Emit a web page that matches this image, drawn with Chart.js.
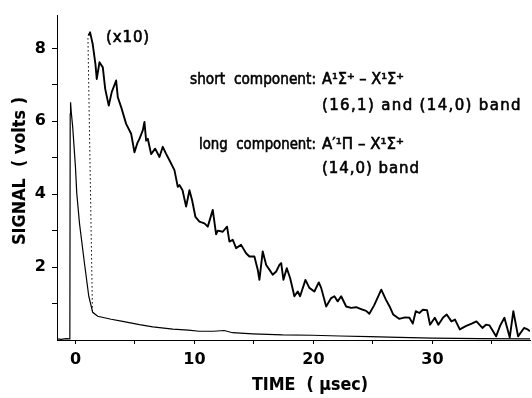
<!DOCTYPE html>
<html>
<head>
<meta charset="utf-8">
<script src="https://cdn.jsdelivr.net/npm/chart.js@4.4.1/dist/chart.umd.min.js"></script>
<style>
  html, body { margin: 0; padding: 0; background: #fff; }
  canvas { display: block; }
</style>
</head>
<body>
<canvas id="decayChart" width="532" height="398"></canvas>
<script>
// fast trace (full scale), time in microseconds, signal in volts
const mainTime = [-1.55, -1.2, -0.8, -0.47, -0.44, -0.41, -0.35, -0.23, 0, 0.11, 0.34, 0.76, 1.12, 1.45,
    1.87, 3.0, 3.97, 5.38, 6.5, 8.18, 9.5, 10.4, 11.0, 11.6, 12.5, 13.2, 14.9, 17.4, 19.9, 22.2,
    24.7, 27.2, 30.0, 34.0, 38.2];
const mainSignal = [0.03, 0.02, 0.04, 0.03, 6.2, 6.52, 6.25, 5.84, 4.75, 4.03, 3.2, 2.1, 1.2, 0.76,
    0.65, 0.57, 0.51, 0.42, 0.36, 0.30, 0.27, 0.24, 0.24, 0.24, 0.26, 0.2, 0.17, 0.14, 0.13, 0.11,
    0.09, 0.07, 0.05, 0.04, 0.03];

// slow tail, amplified x10
const x10Time = [1.09, 1.23, 1.45, 1.68, 1.79, 2.02, 2.3, 2.5, 2.8, 3.05, 3.42, 3.56, 3.84, 4.26,
    4.68, 4.96, 5.2, 5.38, 5.66, 5.8, 5.94, 6.08, 6.36, 6.7, 7.06, 7.34, 7.6, 7.9, 8.32, 8.6,
    8.74, 9.0, 9.3, 9.58, 9.8, 10.08, 10.42, 10.84, 11.12, 11.54, 11.82, 11.96, 12.38, 12.74, 12.94,
    13.22, 13.5, 13.92, 14.34, 14.62, 15.04, 15.32, 15.46, 15.74, 16.03, 16.3, 16.58, 16.87, 17.14,
    17.29, 17.48, 17.76, 18.04, 18.4, 18.68, 18.88, 19.33, 19.66, 20.08, 20.45, 20.65, 21.07, 21.49,
    21.76, 22.04, 22.33, 22.75, 23.17, 23.59, 24.0, 24.43, 24.7, 25.1, 25.7, 26.1, 26.4, 26.7,
    27.2, 27.7, 28.07, 28.35, 28.6, 28.9, 29.2, 29.55, 29.8, 30.2, 30.5, 30.9, 31.2, 31.6, 31.9,
    32.3, 32.8, 33.3, 33.7, 34.2, 34.5, 34.8, 35.35, 35.7, 36.05, 36.5, 36.8, 37.2, 37.7, 38.0, 38.2];
const x10Signal = [8.35, 8.44, 8.12, 7.57, 7.16, 7.62, 7.48, 6.89, 6.43, 6.8, 7.12, 6.66, 6.39, 5.93,
    5.66, 5.15, 5.4, 5.52, 5.75, 5.98, 5.47, 5.52, 5.1, 5.25, 5.02, 5.3, 5.12, 4.93, 4.66, 4.2,
    4.25, 4.11, 3.66, 4.11, 3.84, 3.38, 3.25, 3.2, 3.11, 3.57, 2.9, 3.0, 2.97, 3.11, 2.7,
    2.75, 2.52, 2.61, 2.38, 2.29, 2.29, 1.93, 1.65, 2.43, 2.06, 1.93, 1.79, 1.88, 2.06,
    2.11, 1.65, 1.97, 1.7, 1.2, 1.33, 1.2, 1.65, 1.43, 1.33, 1.58, 1.43, 0.92, 1.15,
    1.2, 1.06, 1.2, 0.92, 0.88, 0.9, 0.85, 0.8, 0.72, 0.95, 1.38, 1.1, 0.92, 0.7,
    0.58, 0.62, 0.61, 0.45, 0.79, 0.74, 0.83, 0.82, 0.42, 0.61, 0.42, 0.62, 0.7, 0.51, 0.56,
    0.29, 0.38, 0.45, 0.51, 0.33, 0.42, 0.4, 0.1, 0.4, 0.61, 0.07, 0.79, 0.1, 0.33, 0.29, 0.24];

// dotted link between the knee of the fast trace and the start of the x10 trace
const linkTime = [1.43, 1.05];
const linkSignal = [0.78, 8.3];

const xTickValues = [0, 5, 10, 15, 20, 25, 30, 35];
const yTickValues = [1, 2, 3, 4, 5, 6, 7, 8];

function points(xs, ys) {
    return xs.map((x, i) => ({ x: x, y: ys[i] }));
}

const fontFamily = "'DejaVu Sans', sans-serif";

// free text: [text, x, y, width, align, font]
const noteFont = "15px " + fontFamily;
const notes = [
    ["(x10)", 106, 38, 44, "left", noteFont],
    ["short  component:", 316, 80, 126, "right", noteFont],
    ["A\u00b9\u03a3\u207a \u2013 X\u00b9\u03a3\u207a", 322, 80, 82, "left", noteFont],
    ["(16,1) and (14,0) band", 322, 106, 200, "left", noteFont],
    ["long  component:", 316, 145, 117, "right", noteFont],
    ["A\u2032\u00b9\u03a0 \u2013 X\u00b9\u03a3\u207a", 322, 145, 82, "left", noteFont],
    ["(14,0) band", 322, 169, 98, "left", noteFont],
    ["TIME  ( \u03bcsec)", 252, 386, 116, "left", "bold 17px " + fontFamily],
];

// draw text so it spans the given width: widen with letter spacing, narrow by scaling
function drawFitted(ctx, text, x, y, width, align) {
    ctx.letterSpacing = "0px";
    const natural = ctx.measureText(text).width;
    ctx.save();
    ctx.translate(align === "right" ? x - width : x, y);
    ctx.textAlign = "left";
    if (width > natural) {
        ctx.letterSpacing = ((width - natural) / text.length).toFixed(2) + "px";
    } else {
        ctx.scale(width / natural, 1);
    }
    ctx.strokeText(text, 0, 0);
    ctx.fillText(text, 0, 0);
    ctx.restore();
}

const notesPlugin = {
    id: "notes",
    afterDraw(chart) {
        const ctx = chart.ctx;
        ctx.save();
        ctx.fillStyle = "#000";
        ctx.strokeStyle = "#000";
        ctx.textBaseline = "middle";
        notes.forEach(n => {
            ctx.font = n[5];
            ctx.lineWidth = n[5] === noteFont ? 0.6 : 0.1;
            drawFitted(ctx, n[0], n[1], n[2], n[3], n[4]);
        });
        // y axis title, rotated
        ctx.font = "bold 17px " + fontFamily;
        ctx.lineWidth = 0.1;
        ctx.translate(21, 171);
        ctx.rotate(-Math.PI / 2);
        drawFitted(ctx, "SIGNAL  ( volts )", -74, 0, 148, "left");
        ctx.restore();
    }
};

const tickFont = { family: fontFamily, size: 16, weight: "bold" };

new Chart(document.getElementById("decayChart"), {
    type: "line",
    data: {
        datasets: [
            {
                data: points(mainTime, mainSignal),
                borderColor: "#000",
                borderWidth: 1.2,
                pointRadius: 0,
            },
            {
                data: points(x10Time, x10Signal),
                borderColor: "#000",
                borderWidth: 1.9,
                borderJoinStyle: "round",
                pointRadius: 0,
            },
            {
                data: points(linkTime, linkSignal),
                borderColor: "#000",
                borderWidth: 1,
                borderDash: [1.5, 2.5],
                pointRadius: 0,
            },
        ],
    },
    options: {
        responsive: false,
        animation: false,
        devicePixelRatio: 1,
        layout: { padding: { top: 14, right: 2, left: 0, bottom: 0 } },
        plugins: {
            legend: { display: false },
            tooltip: { enabled: false },
        },
        scales: {
            x: {
                type: "linear",
                min: -1.55,
                max: 38.2,
                afterFit: s => { s.height = 58; },
                afterBuildTicks: s => { s.ticks = xTickValues.map(v => ({ value: v })); },
                border: { display: true, color: "#000", width: 1 },
                grid: { drawOnChartArea: false, drawTicks: true, tickLength: 4, color: "#000" },
                ticks: {
                    color: "#000",
                    font: tickFont,
                    padding: 6,
                    maxRotation: 0,
                    autoSkip: false,
                    callback: v => (v % 10 === 0 ? String(v) : ""),
                },
            },
            y: {
                min: 0,
                max: 8.9,
                afterFit: s => { s.width = 57; },
                afterBuildTicks: s => { s.ticks = yTickValues.map(v => ({ value: v })); },
                border: { display: true, color: "#000", width: 1 },
                grid: { drawOnChartArea: false, drawTicks: true, tickLength: 5, color: "#000" },
                ticks: {
                    color: "#000",
                    font: tickFont,
                    padding: 6,
                    autoSkip: false,
                    callback: v => (v % 2 === 0 ? String(v) : ""),
                },
            },
        },
    },
    plugins: [notesPlugin],
});
</script>
</body>
</html>
